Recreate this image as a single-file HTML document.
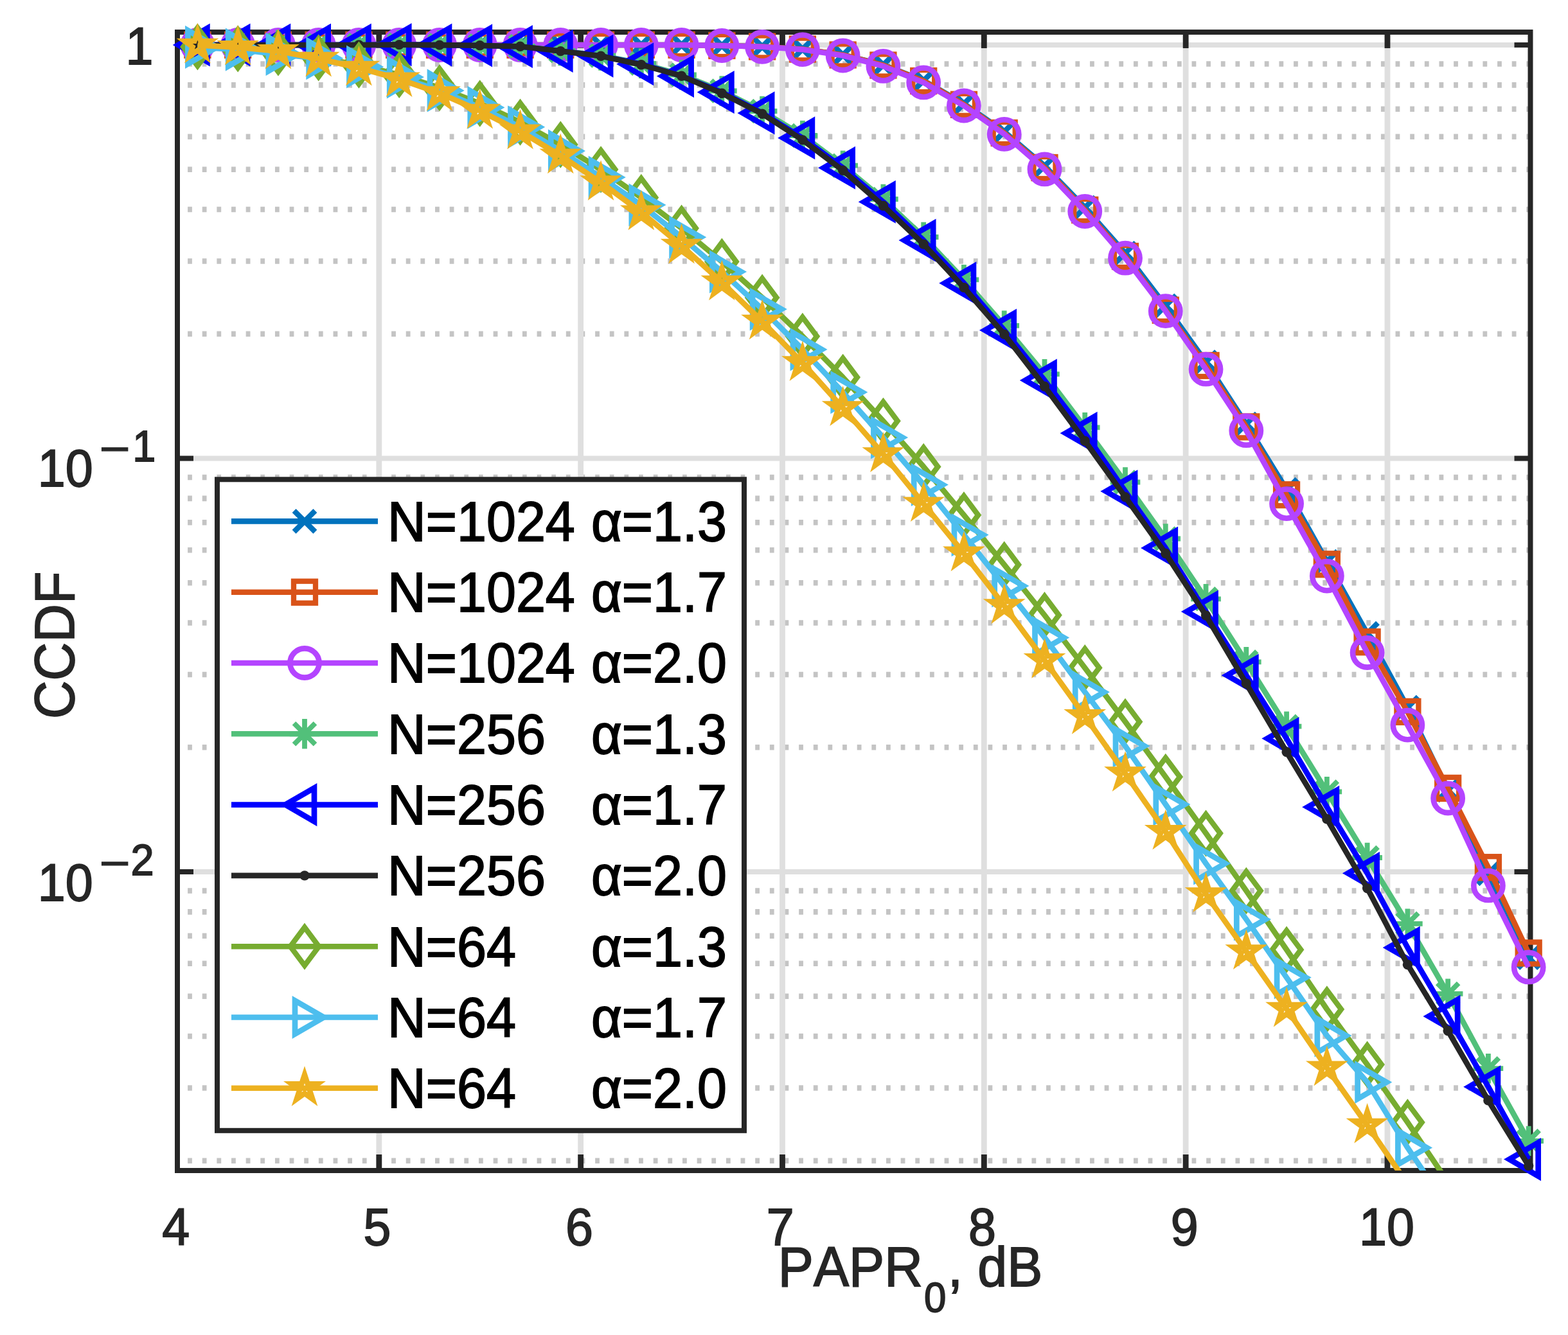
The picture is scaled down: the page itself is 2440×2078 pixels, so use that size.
<!DOCTYPE html><html><head><meta charset="utf-8"><title>CCDF of PAPR</title><style>html,body{margin:0;padding:0;background:#fff;overflow:hidden;}svg{display:block;}text{font-family:"Liberation Sans",Arial,Helvetica,sans-serif;font-kerning:none;}</style></head><body>
<svg xmlns="http://www.w3.org/2000/svg" width="2440" height="2078" viewBox="0 0 2440 2078">
<rect width="2440" height="2078" fill="#fff"/>
<defs><clipPath id="ax"><rect x="276" y="50" width="2105.5" height="1772"/></clipPath></defs>
<g stroke="#C4C4C4" stroke-width="8.6" stroke-dasharray="6.8 15.844" fill="none"><path d="M292.1 1806.79H2381.5"/><path d="M292.1 1693.47H2381.5"/><path d="M292.1 1613.07H2381.5"/><path d="M292.1 1550.71H2381.5"/><path d="M292.1 1499.76H2381.5"/><path d="M292.1 1456.68H2381.5"/><path d="M292.1 1419.36H2381.5"/><path d="M292.1 1386.44H2381.5"/><path d="M292.1 1163.29H2381.5"/><path d="M292.1 1049.97H2381.5"/><path d="M292.1 969.57H2381.5"/><path d="M292.1 907.21H2381.5"/><path d="M292.1 856.26H2381.5"/><path d="M292.1 813.18H2381.5"/><path d="M292.1 775.86H2381.5"/><path d="M292.1 742.94H2381.5"/><path d="M292.1 519.79H2381.5"/><path d="M292.1 406.47H2381.5"/><path d="M292.1 326.07H2381.5"/><path d="M292.1 263.71H2381.5"/><path d="M292.1 212.76H2381.5"/><path d="M292.1 169.68H2381.5"/><path d="M292.1 132.36H2381.5"/><path d="M292.1 99.44H2381.5"/></g>
<g stroke="#DFDFDF" stroke-width="8" fill="none"><path d="M589.83 50V1822" stroke-width="8.8"/><path d="M903.66 50V1822" stroke-width="8.8"/><path d="M1217.49 50V1822" stroke-width="8.8"/><path d="M1531.32 50V1822" stroke-width="8.8"/><path d="M1845.15 50V1822" stroke-width="8.8"/><path d="M2158.98 50V1822" stroke-width="8.8"/><path d="M276 70H2381.5"/><path d="M276 713.5H2381.5"/><path d="M276 1357H2381.5"/></g>
<g stroke="#262626" stroke-width="8" fill="none"><path d="M589.83 1822V1797M589.83 50V75" stroke-width="8.8"/><path d="M903.66 1822V1797M903.66 50V75" stroke-width="8.8"/><path d="M1217.49 1822V1797M1217.49 50V75" stroke-width="8.8"/><path d="M1531.32 1822V1797M1531.32 50V75" stroke-width="8.8"/><path d="M1845.15 1822V1797M1845.15 50V75" stroke-width="8.8"/><path d="M2158.98 1822V1797M2158.98 50V75" stroke-width="8.8"/><path d="M276 70H301M2381.5 70H2356.5"/><path d="M276 713.5H301M2381.5 713.5H2356.5"/><path d="M276 1357H301M2381.5 1357H2356.5"/><rect x="276" y="50" width="2105.5" height="1772"/></g>
<text transform="matrix(0.9420 0 0 1 252.13 1938.10)" font-size="82.00" fill="#262626" stroke="#262626" stroke-width="1.80">4</text><text transform="matrix(0.9420 0 0 1 565.61 1938.10)" font-size="82.00" fill="#262626" stroke="#262626" stroke-width="1.80">5</text><text transform="matrix(0.9420 0 0 1 879.92 1938.10)" font-size="82.00" fill="#262626" stroke="#262626" stroke-width="1.80">6</text><text transform="matrix(0.9420 0 0 1 1192.64 1938.10)" font-size="82.00" fill="#262626" stroke="#262626" stroke-width="1.80">7</text><text transform="matrix(0.9420 0 0 1 1506.94 1938.10)" font-size="82.00" fill="#262626" stroke="#262626" stroke-width="1.80">8</text><text transform="matrix(0.9420 0 0 1 1821.69 1938.10)" font-size="82.00" fill="#262626" stroke="#262626" stroke-width="1.80">9</text><text transform="matrix(0.9420 0 0 1 2115.02 1938.10)" font-size="82.00" fill="#262626" stroke="#262626" stroke-width="1.80">10</text>
<text transform="matrix(0.9420 0 0 1 195.52 99.90)" font-size="82.00" fill="#262626" stroke="#262626" stroke-width="1.80">1</text><text transform="matrix(0.9420 0 0 1 58.72 756.90)" font-size="82.00" fill="#262626" stroke="#262626" stroke-width="1.80">10</text><text transform="matrix(1.1949 0 0 1 154.44 722.00)" font-size="68.90" fill="#262626" stroke="#262626" stroke-width="1.20">−</text><text transform="matrix(0.9420 0 0 1 206.36 717.50)" font-size="68.90" fill="#262626" stroke="#262626" stroke-width="1.80">1</text><text transform="matrix(0.9420 0 0 1 58.72 1401.70)" font-size="82.00" fill="#262626" stroke="#262626" stroke-width="1.80">10</text><text transform="matrix(1.1949 0 0 1 154.44 1366.80)" font-size="68.90" fill="#262626" stroke="#262626" stroke-width="1.20">−</text><text transform="matrix(0.9420 0 0 1 203.54 1362.30)" font-size="68.90" fill="#262626" stroke="#262626" stroke-width="1.80">2</text>
<text transform="matrix(0.9500 0 0 1 1210.82 2002.20)" font-size="87.00" fill="#262626" stroke="#262626" stroke-width="1.80">PAPR</text>
<text transform="matrix(0.9500 0 0 1 1437.89 2042.10)" font-size="65.00" fill="#262626" stroke="#262626" stroke-width="1.80">0</text>
<text transform="matrix(0.9500 0 0 1 1475.07 2002.20)" font-size="87.00" fill="#262626" stroke="#262626" stroke-width="1.80">,</text>
<text transform="matrix(0.9500 0 0 1 1521.33 2002.20)" font-size="87.00" fill="#262626" stroke="#262626" stroke-width="1.80">dB</text>
<text transform="translate(115.00 1119.10) rotate(-90) scale(0.9500 1)" font-size="87.00" fill="#262626" stroke="#262626" stroke-width="1.80">CCDF</text>
<polyline clip-path="url(#ax)" points="307.4,70 370.17,70 432.93,70 495.7,70 558.46,70 621.23,70 684,70 746.76,70 809.53,70 872.29,70 935.06,70 997.83,70 1060.59,70 1123.36,71 1186.12,72.5 1248.89,76.5 1311.66,85.5 1374.42,101 1437.19,125.5 1499.95,161.5 1562.72,205 1625.49,258.5 1688.25,323 1751.02,394 1813.78,476 1876.55,563.5 1939.32,660 2002.08,762 2064.85,874 2127.61,986 2190.38,1101 2253.15,1230 2315.91,1359.8 2378.68,1490.7" stroke="#0072BD" stroke-width="8.6" fill="none" stroke-linejoin="round"/>
<path d="M291 53.6L323.8 86.4M291 86.4L323.8 53.6" stroke="#0072BD" stroke-width="8.3" fill="none"/><path d="M353.77 53.6L386.57 86.4M353.77 86.4L386.57 53.6" stroke="#0072BD" stroke-width="8.3" fill="none"/><path d="M416.53 53.6L449.33 86.4M416.53 86.4L449.33 53.6" stroke="#0072BD" stroke-width="8.3" fill="none"/><path d="M479.3 53.6L512.1 86.4M479.3 86.4L512.1 53.6" stroke="#0072BD" stroke-width="8.3" fill="none"/><path d="M542.06 53.6L574.86 86.4M542.06 86.4L574.86 53.6" stroke="#0072BD" stroke-width="8.3" fill="none"/><path d="M604.83 53.6L637.63 86.4M604.83 86.4L637.63 53.6" stroke="#0072BD" stroke-width="8.3" fill="none"/><path d="M667.6 53.6L700.4 86.4M667.6 86.4L700.4 53.6" stroke="#0072BD" stroke-width="8.3" fill="none"/><path d="M730.36 53.6L763.16 86.4M730.36 86.4L763.16 53.6" stroke="#0072BD" stroke-width="8.3" fill="none"/><path d="M793.13 53.6L825.93 86.4M793.13 86.4L825.93 53.6" stroke="#0072BD" stroke-width="8.3" fill="none"/><path d="M855.89 53.6L888.69 86.4M855.89 86.4L888.69 53.6" stroke="#0072BD" stroke-width="8.3" fill="none"/><path d="M918.66 53.6L951.46 86.4M918.66 86.4L951.46 53.6" stroke="#0072BD" stroke-width="8.3" fill="none"/><path d="M981.43 53.6L1014.23 86.4M981.43 86.4L1014.23 53.6" stroke="#0072BD" stroke-width="8.3" fill="none"/><path d="M1044.19 53.6L1076.99 86.4M1044.19 86.4L1076.99 53.6" stroke="#0072BD" stroke-width="8.3" fill="none"/><path d="M1106.96 54.6L1139.76 87.4M1106.96 87.4L1139.76 54.6" stroke="#0072BD" stroke-width="8.3" fill="none"/><path d="M1169.72 56.1L1202.52 88.9M1169.72 88.9L1202.52 56.1" stroke="#0072BD" stroke-width="8.3" fill="none"/><path d="M1232.49 60.1L1265.29 92.9M1232.49 92.9L1265.29 60.1" stroke="#0072BD" stroke-width="8.3" fill="none"/><path d="M1295.26 69.1L1328.06 101.9M1295.26 101.9L1328.06 69.1" stroke="#0072BD" stroke-width="8.3" fill="none"/><path d="M1358.02 84.6L1390.82 117.4M1358.02 117.4L1390.82 84.6" stroke="#0072BD" stroke-width="8.3" fill="none"/><path d="M1420.79 109.1L1453.59 141.9M1420.79 141.9L1453.59 109.1" stroke="#0072BD" stroke-width="8.3" fill="none"/><path d="M1483.55 145.1L1516.35 177.9M1483.55 177.9L1516.35 145.1" stroke="#0072BD" stroke-width="8.3" fill="none"/><path d="M1546.32 188.6L1579.12 221.4M1546.32 221.4L1579.12 188.6" stroke="#0072BD" stroke-width="8.3" fill="none"/><path d="M1609.09 242.1L1641.89 274.9M1609.09 274.9L1641.89 242.1" stroke="#0072BD" stroke-width="8.3" fill="none"/><path d="M1671.85 306.6L1704.65 339.4M1671.85 339.4L1704.65 306.6" stroke="#0072BD" stroke-width="8.3" fill="none"/><path d="M1734.62 377.6L1767.42 410.4M1734.62 410.4L1767.42 377.6" stroke="#0072BD" stroke-width="8.3" fill="none"/><path d="M1797.38 459.6L1830.18 492.4M1797.38 492.4L1830.18 459.6" stroke="#0072BD" stroke-width="8.3" fill="none"/><path d="M1860.15 547.1L1892.95 579.9M1860.15 579.9L1892.95 547.1" stroke="#0072BD" stroke-width="8.3" fill="none"/><path d="M1922.92 643.6L1955.72 676.4M1922.92 676.4L1955.72 643.6" stroke="#0072BD" stroke-width="8.3" fill="none"/><path d="M1985.68 745.6L2018.48 778.4M1985.68 778.4L2018.48 745.6" stroke="#0072BD" stroke-width="8.3" fill="none"/><path d="M2048.45 857.6L2081.25 890.4M2048.45 890.4L2081.25 857.6" stroke="#0072BD" stroke-width="8.3" fill="none"/><path d="M2111.21 969.6L2144.01 1002.4M2111.21 1002.4L2144.01 969.6" stroke="#0072BD" stroke-width="8.3" fill="none"/><path d="M2173.98 1084.6L2206.78 1117.4M2173.98 1117.4L2206.78 1084.6" stroke="#0072BD" stroke-width="8.3" fill="none"/><path d="M2236.75 1213.6L2269.55 1246.4M2236.75 1246.4L2269.55 1213.6" stroke="#0072BD" stroke-width="8.3" fill="none"/><path d="M2299.51 1343.4L2332.31 1376.2M2299.51 1376.2L2332.31 1343.4" stroke="#0072BD" stroke-width="8.3" fill="none"/><path d="M2362.28 1474.3L2395.08 1507.1M2362.28 1507.1L2395.08 1474.3" stroke="#0072BD" stroke-width="8.3" fill="none"/>
<polyline clip-path="url(#ax)" points="307.4,70 370.17,70 432.93,70 495.7,70 558.46,70 621.23,70 684,70 746.76,70 809.53,70 872.29,70 935.06,70 997.83,70 1060.59,70 1123.36,71 1186.12,72.5 1248.89,76.5 1311.66,85.5 1374.42,101.5 1437.19,126 1499.95,162.8 1562.72,207 1625.49,261 1688.25,326.9 1751.02,399 1813.78,482.8 1876.55,569 1939.32,664.4 2002.08,770.2 2064.85,878.3 2127.61,999.3 2190.38,1107.9 2253.15,1226.9 2315.91,1350.2 2378.68,1483.5" stroke="#D95319" stroke-width="8.6" fill="none" stroke-linejoin="round"/>
<rect x="290.4" y="53" width="34" height="34" stroke="#D95319" stroke-width="8.3" fill="none"/><rect x="353.17" y="53" width="34" height="34" stroke="#D95319" stroke-width="8.3" fill="none"/><rect x="415.93" y="53" width="34" height="34" stroke="#D95319" stroke-width="8.3" fill="none"/><rect x="478.7" y="53" width="34" height="34" stroke="#D95319" stroke-width="8.3" fill="none"/><rect x="541.46" y="53" width="34" height="34" stroke="#D95319" stroke-width="8.3" fill="none"/><rect x="604.23" y="53" width="34" height="34" stroke="#D95319" stroke-width="8.3" fill="none"/><rect x="667" y="53" width="34" height="34" stroke="#D95319" stroke-width="8.3" fill="none"/><rect x="729.76" y="53" width="34" height="34" stroke="#D95319" stroke-width="8.3" fill="none"/><rect x="792.53" y="53" width="34" height="34" stroke="#D95319" stroke-width="8.3" fill="none"/><rect x="855.29" y="53" width="34" height="34" stroke="#D95319" stroke-width="8.3" fill="none"/><rect x="918.06" y="53" width="34" height="34" stroke="#D95319" stroke-width="8.3" fill="none"/><rect x="980.83" y="53" width="34" height="34" stroke="#D95319" stroke-width="8.3" fill="none"/><rect x="1043.59" y="53" width="34" height="34" stroke="#D95319" stroke-width="8.3" fill="none"/><rect x="1106.36" y="54" width="34" height="34" stroke="#D95319" stroke-width="8.3" fill="none"/><rect x="1169.12" y="55.5" width="34" height="34" stroke="#D95319" stroke-width="8.3" fill="none"/><rect x="1231.89" y="59.5" width="34" height="34" stroke="#D95319" stroke-width="8.3" fill="none"/><rect x="1294.66" y="68.5" width="34" height="34" stroke="#D95319" stroke-width="8.3" fill="none"/><rect x="1357.42" y="84.5" width="34" height="34" stroke="#D95319" stroke-width="8.3" fill="none"/><rect x="1420.19" y="109" width="34" height="34" stroke="#D95319" stroke-width="8.3" fill="none"/><rect x="1482.95" y="145.8" width="34" height="34" stroke="#D95319" stroke-width="8.3" fill="none"/><rect x="1545.72" y="190" width="34" height="34" stroke="#D95319" stroke-width="8.3" fill="none"/><rect x="1608.49" y="244" width="34" height="34" stroke="#D95319" stroke-width="8.3" fill="none"/><rect x="1671.25" y="309.9" width="34" height="34" stroke="#D95319" stroke-width="8.3" fill="none"/><rect x="1734.02" y="382" width="34" height="34" stroke="#D95319" stroke-width="8.3" fill="none"/><rect x="1796.78" y="465.8" width="34" height="34" stroke="#D95319" stroke-width="8.3" fill="none"/><rect x="1859.55" y="552" width="34" height="34" stroke="#D95319" stroke-width="8.3" fill="none"/><rect x="1922.32" y="647.4" width="34" height="34" stroke="#D95319" stroke-width="8.3" fill="none"/><rect x="1985.08" y="753.2" width="34" height="34" stroke="#D95319" stroke-width="8.3" fill="none"/><rect x="2047.85" y="861.3" width="34" height="34" stroke="#D95319" stroke-width="8.3" fill="none"/><rect x="2110.61" y="982.3" width="34" height="34" stroke="#D95319" stroke-width="8.3" fill="none"/><rect x="2173.38" y="1090.9" width="34" height="34" stroke="#D95319" stroke-width="8.3" fill="none"/><rect x="2236.15" y="1209.9" width="34" height="34" stroke="#D95319" stroke-width="8.3" fill="none"/><rect x="2298.91" y="1333.2" width="34" height="34" stroke="#D95319" stroke-width="8.3" fill="none"/><rect x="2361.68" y="1466.5" width="34" height="34" stroke="#D95319" stroke-width="8.3" fill="none"/>
<polyline clip-path="url(#ax)" points="307.4,70 370.17,70 432.93,70 495.7,70 558.46,70 621.23,70 684,70 746.76,70 809.53,70 872.29,70 935.06,70 997.83,70 1060.59,70 1123.36,71 1186.12,72.8 1248.89,77.1 1311.66,86.5 1374.42,102.9 1437.19,128.4 1499.95,164.5 1562.72,208.8 1625.49,263.4 1688.25,329 1751.02,401.7 1813.78,484.2 1876.55,574.7 1939.32,670.2 2002.08,784.1 2064.85,896.6 2127.61,1016 2190.38,1128.6 2253.15,1242.5 2315.91,1378.4 2378.68,1505.4" stroke="#B444FF" stroke-width="8.6" fill="none" stroke-linejoin="round"/>
<circle cx="307.4" cy="70" r="22.6" stroke="#B444FF" stroke-width="8.6" fill="none"/><circle cx="370.17" cy="70" r="22.6" stroke="#B444FF" stroke-width="8.6" fill="none"/><circle cx="432.93" cy="70" r="22.6" stroke="#B444FF" stroke-width="8.6" fill="none"/><circle cx="495.7" cy="70" r="22.6" stroke="#B444FF" stroke-width="8.6" fill="none"/><circle cx="558.46" cy="70" r="22.6" stroke="#B444FF" stroke-width="8.6" fill="none"/><circle cx="621.23" cy="70" r="22.6" stroke="#B444FF" stroke-width="8.6" fill="none"/><circle cx="684" cy="70" r="22.6" stroke="#B444FF" stroke-width="8.6" fill="none"/><circle cx="746.76" cy="70" r="22.6" stroke="#B444FF" stroke-width="8.6" fill="none"/><circle cx="809.53" cy="70" r="22.6" stroke="#B444FF" stroke-width="8.6" fill="none"/><circle cx="872.29" cy="70" r="22.6" stroke="#B444FF" stroke-width="8.6" fill="none"/><circle cx="935.06" cy="70" r="22.6" stroke="#B444FF" stroke-width="8.6" fill="none"/><circle cx="997.83" cy="70" r="22.6" stroke="#B444FF" stroke-width="8.6" fill="none"/><circle cx="1060.59" cy="70" r="22.6" stroke="#B444FF" stroke-width="8.6" fill="none"/><circle cx="1123.36" cy="71" r="22.6" stroke="#B444FF" stroke-width="8.6" fill="none"/><circle cx="1186.12" cy="72.8" r="22.6" stroke="#B444FF" stroke-width="8.6" fill="none"/><circle cx="1248.89" cy="77.1" r="22.6" stroke="#B444FF" stroke-width="8.6" fill="none"/><circle cx="1311.66" cy="86.5" r="22.6" stroke="#B444FF" stroke-width="8.6" fill="none"/><circle cx="1374.42" cy="102.9" r="22.6" stroke="#B444FF" stroke-width="8.6" fill="none"/><circle cx="1437.19" cy="128.4" r="22.6" stroke="#B444FF" stroke-width="8.6" fill="none"/><circle cx="1499.95" cy="164.5" r="22.6" stroke="#B444FF" stroke-width="8.6" fill="none"/><circle cx="1562.72" cy="208.8" r="22.6" stroke="#B444FF" stroke-width="8.6" fill="none"/><circle cx="1625.49" cy="263.4" r="22.6" stroke="#B444FF" stroke-width="8.6" fill="none"/><circle cx="1688.25" cy="329" r="22.6" stroke="#B444FF" stroke-width="8.6" fill="none"/><circle cx="1751.02" cy="401.7" r="22.6" stroke="#B444FF" stroke-width="8.6" fill="none"/><circle cx="1813.78" cy="484.2" r="22.6" stroke="#B444FF" stroke-width="8.6" fill="none"/><circle cx="1876.55" cy="574.7" r="22.6" stroke="#B444FF" stroke-width="8.6" fill="none"/><circle cx="1939.32" cy="670.2" r="22.6" stroke="#B444FF" stroke-width="8.6" fill="none"/><circle cx="2002.08" cy="784.1" r="22.6" stroke="#B444FF" stroke-width="8.6" fill="none"/><circle cx="2064.85" cy="896.6" r="22.6" stroke="#B444FF" stroke-width="8.6" fill="none"/><circle cx="2127.61" cy="1016" r="22.6" stroke="#B444FF" stroke-width="8.6" fill="none"/><circle cx="2190.38" cy="1128.6" r="22.6" stroke="#B444FF" stroke-width="8.6" fill="none"/><circle cx="2253.15" cy="1242.5" r="22.6" stroke="#B444FF" stroke-width="8.6" fill="none"/><circle cx="2315.91" cy="1378.4" r="22.6" stroke="#B444FF" stroke-width="8.6" fill="none"/><circle cx="2378.68" cy="1505.4" r="22.6" stroke="#B444FF" stroke-width="8.6" fill="none"/>
<polyline clip-path="url(#ax)" points="307.4,70 370.17,70 432.93,70 495.7,70 558.46,70 621.23,69.8 684,70.2 746.76,71 809.53,72 872.29,79 935.06,86.5 997.83,98.8 1060.59,116.5 1123.36,141.5 1186.12,173 1248.89,211 1311.66,257.7 1374.42,310 1437.19,369 1499.95,435.3 1562.72,506.8 1625.49,582.4 1688.25,665.4 1751.02,750.5 1813.78,838.5 1876.55,932.3 1939.32,1030.3 2002.08,1130.7 2064.85,1232.4 2127.61,1335 2190.38,1437.8 2253.15,1546.9 2315.91,1663.2 2378.68,1776" stroke="#52C07A" stroke-width="8.6" fill="none" stroke-linejoin="round"/>
<path d="M307.4 46.7V93.3M284.1 70H330.7M290.9 53.5L323.9 86.5M290.9 86.5L323.9 53.5" stroke="#52C07A" stroke-width="7.8" fill="none"/><path d="M370.17 46.7V93.3M346.87 70H393.47M353.67 53.5L386.67 86.5M353.67 86.5L386.67 53.5" stroke="#52C07A" stroke-width="7.8" fill="none"/><path d="M432.93 46.7V93.3M409.63 70H456.23M416.43 53.5L449.43 86.5M416.43 86.5L449.43 53.5" stroke="#52C07A" stroke-width="7.8" fill="none"/><path d="M495.7 46.7V93.3M472.4 70H519M479.2 53.5L512.2 86.5M479.2 86.5L512.2 53.5" stroke="#52C07A" stroke-width="7.8" fill="none"/><path d="M558.46 46.7V93.3M535.16 70H581.76M541.96 53.5L574.96 86.5M541.96 86.5L574.96 53.5" stroke="#52C07A" stroke-width="7.8" fill="none"/><path d="M621.23 46.5V93.1M597.93 69.8H644.53M604.73 53.3L637.73 86.3M604.73 86.3L637.73 53.3" stroke="#52C07A" stroke-width="7.8" fill="none"/><path d="M684 46.9V93.5M660.7 70.2H707.3M667.5 53.7L700.5 86.7M667.5 86.7L700.5 53.7" stroke="#52C07A" stroke-width="7.8" fill="none"/><path d="M746.76 47.7V94.3M723.46 71H770.06M730.26 54.5L763.26 87.5M730.26 87.5L763.26 54.5" stroke="#52C07A" stroke-width="7.8" fill="none"/><path d="M809.53 48.7V95.3M786.23 72H832.83M793.03 55.5L826.03 88.5M793.03 88.5L826.03 55.5" stroke="#52C07A" stroke-width="7.8" fill="none"/><path d="M872.29 55.7V102.3M848.99 79H895.59M855.79 62.5L888.79 95.5M855.79 95.5L888.79 62.5" stroke="#52C07A" stroke-width="7.8" fill="none"/><path d="M935.06 63.2V109.8M911.76 86.5H958.36M918.56 70L951.56 103M918.56 103L951.56 70" stroke="#52C07A" stroke-width="7.8" fill="none"/><path d="M997.83 75.5V122.1M974.53 98.8H1021.13M981.33 82.3L1014.33 115.3M981.33 115.3L1014.33 82.3" stroke="#52C07A" stroke-width="7.8" fill="none"/><path d="M1060.59 93.2V139.8M1037.29 116.5H1083.89M1044.09 100L1077.09 133M1044.09 133L1077.09 100" stroke="#52C07A" stroke-width="7.8" fill="none"/><path d="M1123.36 118.2V164.8M1100.06 141.5H1146.66M1106.86 125L1139.86 158M1106.86 158L1139.86 125" stroke="#52C07A" stroke-width="7.8" fill="none"/><path d="M1186.12 149.7V196.3M1162.82 173H1209.42M1169.62 156.5L1202.62 189.5M1169.62 189.5L1202.62 156.5" stroke="#52C07A" stroke-width="7.8" fill="none"/><path d="M1248.89 187.7V234.3M1225.59 211H1272.19M1232.39 194.5L1265.39 227.5M1232.39 227.5L1265.39 194.5" stroke="#52C07A" stroke-width="7.8" fill="none"/><path d="M1311.66 234.4V281M1288.36 257.7H1334.96M1295.16 241.2L1328.16 274.2M1295.16 274.2L1328.16 241.2" stroke="#52C07A" stroke-width="7.8" fill="none"/><path d="M1374.42 286.7V333.3M1351.12 310H1397.72M1357.92 293.5L1390.92 326.5M1357.92 326.5L1390.92 293.5" stroke="#52C07A" stroke-width="7.8" fill="none"/><path d="M1437.19 345.7V392.3M1413.89 369H1460.49M1420.69 352.5L1453.69 385.5M1420.69 385.5L1453.69 352.5" stroke="#52C07A" stroke-width="7.8" fill="none"/><path d="M1499.95 412V458.6M1476.65 435.3H1523.25M1483.45 418.8L1516.45 451.8M1483.45 451.8L1516.45 418.8" stroke="#52C07A" stroke-width="7.8" fill="none"/><path d="M1562.72 483.5V530.1M1539.42 506.8H1586.02M1546.22 490.3L1579.22 523.3M1546.22 523.3L1579.22 490.3" stroke="#52C07A" stroke-width="7.8" fill="none"/><path d="M1625.49 559.1V605.7M1602.19 582.4H1648.79M1608.99 565.9L1641.99 598.9M1608.99 598.9L1641.99 565.9" stroke="#52C07A" stroke-width="7.8" fill="none"/><path d="M1688.25 642.1V688.7M1664.95 665.4H1711.55M1671.75 648.9L1704.75 681.9M1671.75 681.9L1704.75 648.9" stroke="#52C07A" stroke-width="7.8" fill="none"/><path d="M1751.02 727.2V773.8M1727.72 750.5H1774.32M1734.52 734L1767.52 767M1734.52 767L1767.52 734" stroke="#52C07A" stroke-width="7.8" fill="none"/><path d="M1813.78 815.2V861.8M1790.48 838.5H1837.08M1797.28 822L1830.28 855M1797.28 855L1830.28 822" stroke="#52C07A" stroke-width="7.8" fill="none"/><path d="M1876.55 909V955.6M1853.25 932.3H1899.85M1860.05 915.8L1893.05 948.8M1860.05 948.8L1893.05 915.8" stroke="#52C07A" stroke-width="7.8" fill="none"/><path d="M1939.32 1007V1053.6M1916.02 1030.3H1962.62M1922.82 1013.8L1955.82 1046.8M1922.82 1046.8L1955.82 1013.8" stroke="#52C07A" stroke-width="7.8" fill="none"/><path d="M2002.08 1107.4V1154M1978.78 1130.7H2025.38M1985.58 1114.2L2018.58 1147.2M1985.58 1147.2L2018.58 1114.2" stroke="#52C07A" stroke-width="7.8" fill="none"/><path d="M2064.85 1209.1V1255.7M2041.55 1232.4H2088.15M2048.35 1215.9L2081.35 1248.9M2048.35 1248.9L2081.35 1215.9" stroke="#52C07A" stroke-width="7.8" fill="none"/><path d="M2127.61 1311.7V1358.3M2104.31 1335H2150.91M2111.11 1318.5L2144.11 1351.5M2111.11 1351.5L2144.11 1318.5" stroke="#52C07A" stroke-width="7.8" fill="none"/><path d="M2190.38 1414.5V1461.1M2167.08 1437.8H2213.68M2173.88 1421.3L2206.88 1454.3M2173.88 1454.3L2206.88 1421.3" stroke="#52C07A" stroke-width="7.8" fill="none"/><path d="M2253.15 1523.6V1570.2M2229.85 1546.9H2276.45M2236.65 1530.4L2269.65 1563.4M2236.65 1563.4L2269.65 1530.4" stroke="#52C07A" stroke-width="7.8" fill="none"/><path d="M2315.91 1639.9V1686.5M2292.61 1663.2H2339.21M2299.41 1646.7L2332.41 1679.7M2299.41 1679.7L2332.41 1646.7" stroke="#52C07A" stroke-width="7.8" fill="none"/><path d="M2378.68 1752.7V1799.3M2355.38 1776H2401.98M2362.18 1759.5L2395.18 1792.5M2362.18 1792.5L2395.18 1759.5" stroke="#52C07A" stroke-width="7.8" fill="none"/>
<polyline clip-path="url(#ax)" points="307.4,70 370.17,70 432.93,70 495.7,70 558.46,70 621.23,69.6 684,70.1 746.76,70.9 809.53,72.5 872.29,79.4 935.06,87.1 997.83,99.7 1060.59,118.4 1123.36,143.5 1186.12,175.9 1248.89,214.8 1311.66,261.2 1374.42,314.2 1437.19,374.1 1499.95,440.7 1562.72,514 1625.49,592 1688.25,674.2 1751.02,764.8 1813.78,853 1876.55,952 1939.32,1051.2 2002.08,1149.6 2064.85,1256.2 2127.61,1359.2 2190.38,1475 2253.15,1582 2315.91,1691.7 2378.68,1804.6" stroke="#0000FF" stroke-width="8.6" fill="none" stroke-linejoin="round"/>
<path d="M277.4 70L322.4 44L322.4 96Z" stroke="#0000FF" stroke-width="8.7" fill="none" stroke-miterlimit="10"/><path d="M340.17 70L385.17 44L385.17 96Z" stroke="#0000FF" stroke-width="8.7" fill="none" stroke-miterlimit="10"/><path d="M402.93 70L447.93 44L447.93 96Z" stroke="#0000FF" stroke-width="8.7" fill="none" stroke-miterlimit="10"/><path d="M465.7 70L510.7 44L510.7 96Z" stroke="#0000FF" stroke-width="8.7" fill="none" stroke-miterlimit="10"/><path d="M528.46 70L573.46 44L573.46 96Z" stroke="#0000FF" stroke-width="8.7" fill="none" stroke-miterlimit="10"/><path d="M591.23 69.6L636.23 43.6L636.23 95.6Z" stroke="#0000FF" stroke-width="8.7" fill="none" stroke-miterlimit="10"/><path d="M654 70.1L699 44.1L699 96.1Z" stroke="#0000FF" stroke-width="8.7" fill="none" stroke-miterlimit="10"/><path d="M716.76 70.9L761.76 44.9L761.76 96.9Z" stroke="#0000FF" stroke-width="8.7" fill="none" stroke-miterlimit="10"/><path d="M779.53 72.5L824.53 46.5L824.53 98.5Z" stroke="#0000FF" stroke-width="8.7" fill="none" stroke-miterlimit="10"/><path d="M842.29 79.4L887.29 53.4L887.29 105.4Z" stroke="#0000FF" stroke-width="8.7" fill="none" stroke-miterlimit="10"/><path d="M905.06 87.1L950.06 61.1L950.06 113.1Z" stroke="#0000FF" stroke-width="8.7" fill="none" stroke-miterlimit="10"/><path d="M967.83 99.7L1012.83 73.7L1012.83 125.7Z" stroke="#0000FF" stroke-width="8.7" fill="none" stroke-miterlimit="10"/><path d="M1030.59 118.4L1075.59 92.4L1075.59 144.4Z" stroke="#0000FF" stroke-width="8.7" fill="none" stroke-miterlimit="10"/><path d="M1093.36 143.5L1138.36 117.5L1138.36 169.5Z" stroke="#0000FF" stroke-width="8.7" fill="none" stroke-miterlimit="10"/><path d="M1156.12 175.9L1201.12 149.9L1201.12 201.9Z" stroke="#0000FF" stroke-width="8.7" fill="none" stroke-miterlimit="10"/><path d="M1218.89 214.8L1263.89 188.8L1263.89 240.8Z" stroke="#0000FF" stroke-width="8.7" fill="none" stroke-miterlimit="10"/><path d="M1281.66 261.2L1326.66 235.2L1326.66 287.2Z" stroke="#0000FF" stroke-width="8.7" fill="none" stroke-miterlimit="10"/><path d="M1344.42 314.2L1389.42 288.2L1389.42 340.2Z" stroke="#0000FF" stroke-width="8.7" fill="none" stroke-miterlimit="10"/><path d="M1407.19 374.1L1452.19 348.1L1452.19 400.1Z" stroke="#0000FF" stroke-width="8.7" fill="none" stroke-miterlimit="10"/><path d="M1469.95 440.7L1514.95 414.7L1514.95 466.7Z" stroke="#0000FF" stroke-width="8.7" fill="none" stroke-miterlimit="10"/><path d="M1532.72 514L1577.72 488L1577.72 540Z" stroke="#0000FF" stroke-width="8.7" fill="none" stroke-miterlimit="10"/><path d="M1595.49 592L1640.49 566L1640.49 618Z" stroke="#0000FF" stroke-width="8.7" fill="none" stroke-miterlimit="10"/><path d="M1658.25 674.2L1703.25 648.2L1703.25 700.2Z" stroke="#0000FF" stroke-width="8.7" fill="none" stroke-miterlimit="10"/><path d="M1721.02 764.8L1766.02 738.8L1766.02 790.8Z" stroke="#0000FF" stroke-width="8.7" fill="none" stroke-miterlimit="10"/><path d="M1783.78 853L1828.78 827L1828.78 879Z" stroke="#0000FF" stroke-width="8.7" fill="none" stroke-miterlimit="10"/><path d="M1846.55 952L1891.55 926L1891.55 978Z" stroke="#0000FF" stroke-width="8.7" fill="none" stroke-miterlimit="10"/><path d="M1909.32 1051.2L1954.32 1025.2L1954.32 1077.2Z" stroke="#0000FF" stroke-width="8.7" fill="none" stroke-miterlimit="10"/><path d="M1972.08 1149.6L2017.08 1123.6L2017.08 1175.6Z" stroke="#0000FF" stroke-width="8.7" fill="none" stroke-miterlimit="10"/><path d="M2034.85 1256.2L2079.85 1230.2L2079.85 1282.2Z" stroke="#0000FF" stroke-width="8.7" fill="none" stroke-miterlimit="10"/><path d="M2097.61 1359.2L2142.61 1333.2L2142.61 1385.2Z" stroke="#0000FF" stroke-width="8.7" fill="none" stroke-miterlimit="10"/><path d="M2160.38 1475L2205.38 1449L2205.38 1501Z" stroke="#0000FF" stroke-width="8.7" fill="none" stroke-miterlimit="10"/><path d="M2223.15 1582L2268.15 1556L2268.15 1608Z" stroke="#0000FF" stroke-width="8.7" fill="none" stroke-miterlimit="10"/><path d="M2285.91 1691.7L2330.91 1665.7L2330.91 1717.7Z" stroke="#0000FF" stroke-width="8.7" fill="none" stroke-miterlimit="10"/><path d="M2348.68 1804.6L2393.68 1778.6L2393.68 1830.6Z" stroke="#0000FF" stroke-width="8.7" fill="none" stroke-miterlimit="10"/>
<polyline clip-path="url(#ax)" points="307.4,70 370.17,70 432.93,70 495.7,70 558.46,70 621.23,69.6 684,70.1 746.76,70.8 809.53,72.2 872.29,79.6 935.06,87.3 997.83,100.8 1060.59,118.2 1123.36,145.2 1186.12,177.2 1248.89,217.9 1311.66,265.2 1374.42,320.2 1437.19,380.1 1499.95,447.6 1562.72,520.4 1625.49,601.5 1688.25,686.4 1751.02,773.6 1813.78,861.5 1876.55,958 1939.32,1064 2002.08,1170.5 2064.85,1274.7 2127.61,1382.6 2190.38,1501.5 2253.15,1604.5 2315.91,1712.9 2378.68,1814.5" stroke="#262626" stroke-width="8.6" fill="none" stroke-linejoin="round"/>
<circle cx="307.4" cy="70" r="7.7" fill="#262626"/><circle cx="370.17" cy="70" r="7.7" fill="#262626"/><circle cx="432.93" cy="70" r="7.7" fill="#262626"/><circle cx="495.7" cy="70" r="7.7" fill="#262626"/><circle cx="558.46" cy="70" r="7.7" fill="#262626"/><circle cx="621.23" cy="69.6" r="7.7" fill="#262626"/><circle cx="684" cy="70.1" r="7.7" fill="#262626"/><circle cx="746.76" cy="70.8" r="7.7" fill="#262626"/><circle cx="809.53" cy="72.2" r="7.7" fill="#262626"/><circle cx="872.29" cy="79.6" r="7.7" fill="#262626"/><circle cx="935.06" cy="87.3" r="7.7" fill="#262626"/><circle cx="997.83" cy="100.8" r="7.7" fill="#262626"/><circle cx="1060.59" cy="118.2" r="7.7" fill="#262626"/><circle cx="1123.36" cy="145.2" r="7.7" fill="#262626"/><circle cx="1186.12" cy="177.2" r="7.7" fill="#262626"/><circle cx="1248.89" cy="217.9" r="7.7" fill="#262626"/><circle cx="1311.66" cy="265.2" r="7.7" fill="#262626"/><circle cx="1374.42" cy="320.2" r="7.7" fill="#262626"/><circle cx="1437.19" cy="380.1" r="7.7" fill="#262626"/><circle cx="1499.95" cy="447.6" r="7.7" fill="#262626"/><circle cx="1562.72" cy="520.4" r="7.7" fill="#262626"/><circle cx="1625.49" cy="601.5" r="7.7" fill="#262626"/><circle cx="1688.25" cy="686.4" r="7.7" fill="#262626"/><circle cx="1751.02" cy="773.6" r="7.7" fill="#262626"/><circle cx="1813.78" cy="861.5" r="7.7" fill="#262626"/><circle cx="1876.55" cy="958" r="7.7" fill="#262626"/><circle cx="1939.32" cy="1064" r="7.7" fill="#262626"/><circle cx="2002.08" cy="1170.5" r="7.7" fill="#262626"/><circle cx="2064.85" cy="1274.7" r="7.7" fill="#262626"/><circle cx="2127.61" cy="1382.6" r="7.7" fill="#262626"/><circle cx="2190.38" cy="1501.5" r="7.7" fill="#262626"/><circle cx="2253.15" cy="1604.5" r="7.7" fill="#262626"/><circle cx="2315.91" cy="1712.9" r="7.7" fill="#262626"/><circle cx="2378.68" cy="1814.5" r="7.7" fill="#262626"/>
<polyline clip-path="url(#ax)" points="307.4,72.9 370.17,75.8 432.93,81.9 495.7,89.8 558.46,101 621.23,116.4 684,136.6 746.76,161 809.53,190.2 872.29,225 935.06,263.8 997.83,307.4 1060.59,355.2 1123.36,407.2 1186.12,463.2 1248.89,523.4 1311.66,587.3 1374.42,655.3 1437.19,726.4 1499.95,801.7 1562.72,879 1625.49,957.6 1688.25,1039.6 1751.02,1123.4 1813.78,1209.3 1876.55,1297.1 1939.32,1386.5 2002.08,1478.2 2064.85,1571 2127.61,1657 2190.38,1747 2253.15,1840" stroke="#77AC30" stroke-width="8.6" fill="none" stroke-linejoin="round"/>
<path d="M307.4 43.2L329.6 72.9L307.4 102.6L285.2 72.9Z" stroke="#77AC30" stroke-width="8.3" fill="none" stroke-miterlimit="10"/><path d="M370.17 46.1L392.37 75.8L370.17 105.5L347.97 75.8Z" stroke="#77AC30" stroke-width="8.3" fill="none" stroke-miterlimit="10"/><path d="M432.93 52.2L455.13 81.9L432.93 111.6L410.73 81.9Z" stroke="#77AC30" stroke-width="8.3" fill="none" stroke-miterlimit="10"/><path d="M495.7 60.1L517.9 89.8L495.7 119.5L473.5 89.8Z" stroke="#77AC30" stroke-width="8.3" fill="none" stroke-miterlimit="10"/><path d="M558.46 71.3L580.66 101L558.46 130.7L536.26 101Z" stroke="#77AC30" stroke-width="8.3" fill="none" stroke-miterlimit="10"/><path d="M621.23 86.7L643.43 116.4L621.23 146.1L599.03 116.4Z" stroke="#77AC30" stroke-width="8.3" fill="none" stroke-miterlimit="10"/><path d="M684 106.9L706.2 136.6L684 166.3L661.8 136.6Z" stroke="#77AC30" stroke-width="8.3" fill="none" stroke-miterlimit="10"/><path d="M746.76 131.3L768.96 161L746.76 190.7L724.56 161Z" stroke="#77AC30" stroke-width="8.3" fill="none" stroke-miterlimit="10"/><path d="M809.53 160.5L831.73 190.2L809.53 219.9L787.33 190.2Z" stroke="#77AC30" stroke-width="8.3" fill="none" stroke-miterlimit="10"/><path d="M872.29 195.3L894.49 225L872.29 254.7L850.09 225Z" stroke="#77AC30" stroke-width="8.3" fill="none" stroke-miterlimit="10"/><path d="M935.06 234.1L957.26 263.8L935.06 293.5L912.86 263.8Z" stroke="#77AC30" stroke-width="8.3" fill="none" stroke-miterlimit="10"/><path d="M997.83 277.7L1020.03 307.4L997.83 337.1L975.63 307.4Z" stroke="#77AC30" stroke-width="8.3" fill="none" stroke-miterlimit="10"/><path d="M1060.59 325.5L1082.79 355.2L1060.59 384.9L1038.39 355.2Z" stroke="#77AC30" stroke-width="8.3" fill="none" stroke-miterlimit="10"/><path d="M1123.36 377.5L1145.56 407.2L1123.36 436.9L1101.16 407.2Z" stroke="#77AC30" stroke-width="8.3" fill="none" stroke-miterlimit="10"/><path d="M1186.12 433.5L1208.32 463.2L1186.12 492.9L1163.92 463.2Z" stroke="#77AC30" stroke-width="8.3" fill="none" stroke-miterlimit="10"/><path d="M1248.89 493.7L1271.09 523.4L1248.89 553.1L1226.69 523.4Z" stroke="#77AC30" stroke-width="8.3" fill="none" stroke-miterlimit="10"/><path d="M1311.66 557.6L1333.86 587.3L1311.66 617L1289.46 587.3Z" stroke="#77AC30" stroke-width="8.3" fill="none" stroke-miterlimit="10"/><path d="M1374.42 625.6L1396.62 655.3L1374.42 685L1352.22 655.3Z" stroke="#77AC30" stroke-width="8.3" fill="none" stroke-miterlimit="10"/><path d="M1437.19 696.7L1459.39 726.4L1437.19 756.1L1414.99 726.4Z" stroke="#77AC30" stroke-width="8.3" fill="none" stroke-miterlimit="10"/><path d="M1499.95 772L1522.15 801.7L1499.95 831.4L1477.75 801.7Z" stroke="#77AC30" stroke-width="8.3" fill="none" stroke-miterlimit="10"/><path d="M1562.72 849.3L1584.92 879L1562.72 908.7L1540.52 879Z" stroke="#77AC30" stroke-width="8.3" fill="none" stroke-miterlimit="10"/><path d="M1625.49 927.9L1647.69 957.6L1625.49 987.3L1603.29 957.6Z" stroke="#77AC30" stroke-width="8.3" fill="none" stroke-miterlimit="10"/><path d="M1688.25 1009.9L1710.45 1039.6L1688.25 1069.3L1666.05 1039.6Z" stroke="#77AC30" stroke-width="8.3" fill="none" stroke-miterlimit="10"/><path d="M1751.02 1093.7L1773.22 1123.4L1751.02 1153.1L1728.82 1123.4Z" stroke="#77AC30" stroke-width="8.3" fill="none" stroke-miterlimit="10"/><path d="M1813.78 1179.6L1835.98 1209.3L1813.78 1239L1791.58 1209.3Z" stroke="#77AC30" stroke-width="8.3" fill="none" stroke-miterlimit="10"/><path d="M1876.55 1267.4L1898.75 1297.1L1876.55 1326.8L1854.35 1297.1Z" stroke="#77AC30" stroke-width="8.3" fill="none" stroke-miterlimit="10"/><path d="M1939.32 1356.8L1961.52 1386.5L1939.32 1416.2L1917.12 1386.5Z" stroke="#77AC30" stroke-width="8.3" fill="none" stroke-miterlimit="10"/><path d="M2002.08 1448.5L2024.28 1478.2L2002.08 1507.9L1979.88 1478.2Z" stroke="#77AC30" stroke-width="8.3" fill="none" stroke-miterlimit="10"/><path d="M2064.85 1541.3L2087.05 1571L2064.85 1600.7L2042.65 1571Z" stroke="#77AC30" stroke-width="8.3" fill="none" stroke-miterlimit="10"/><path d="M2127.61 1627.3L2149.81 1657L2127.61 1686.7L2105.41 1657Z" stroke="#77AC30" stroke-width="8.3" fill="none" stroke-miterlimit="10"/><path d="M2190.38 1717.3L2212.58 1747L2190.38 1776.7L2168.18 1747Z" stroke="#77AC30" stroke-width="8.3" fill="none" stroke-miterlimit="10"/>
<polyline clip-path="url(#ax)" points="307.4,73.4 370.17,77.1 432.93,84.4 495.7,90.8 558.46,104 621.23,120 684,140.9 746.76,167.3 809.53,197.7 872.29,234.9 935.06,276 997.83,319 1060.59,369.2 1123.36,422.9 1186.12,481.2 1248.89,543.9 1311.66,610.6 1374.42,681 1437.19,754.4 1499.95,832.6 1562.72,912 1625.49,992.4 1688.25,1077.3 1751.02,1161.3 1813.78,1252 1876.55,1344 1939.32,1431 2002.08,1521.6 2064.85,1612 2127.61,1684.5 2190.38,1786.4 2253.15,1880" stroke="#4DBEEE" stroke-width="8.6" fill="none" stroke-linejoin="round"/>
<path d="M337.4 73.4L292.4 47.4L292.4 99.4Z" stroke="#4DBEEE" stroke-width="8.7" fill="none" stroke-miterlimit="10"/><path d="M400.17 77.1L355.17 51.1L355.17 103.1Z" stroke="#4DBEEE" stroke-width="8.7" fill="none" stroke-miterlimit="10"/><path d="M462.93 84.4L417.93 58.4L417.93 110.4Z" stroke="#4DBEEE" stroke-width="8.7" fill="none" stroke-miterlimit="10"/><path d="M525.7 90.8L480.7 64.8L480.7 116.8Z" stroke="#4DBEEE" stroke-width="8.7" fill="none" stroke-miterlimit="10"/><path d="M588.46 104L543.46 78L543.46 130Z" stroke="#4DBEEE" stroke-width="8.7" fill="none" stroke-miterlimit="10"/><path d="M651.23 120L606.23 94L606.23 146Z" stroke="#4DBEEE" stroke-width="8.7" fill="none" stroke-miterlimit="10"/><path d="M714 140.9L669 114.9L669 166.9Z" stroke="#4DBEEE" stroke-width="8.7" fill="none" stroke-miterlimit="10"/><path d="M776.76 167.3L731.76 141.3L731.76 193.3Z" stroke="#4DBEEE" stroke-width="8.7" fill="none" stroke-miterlimit="10"/><path d="M839.53 197.7L794.53 171.7L794.53 223.7Z" stroke="#4DBEEE" stroke-width="8.7" fill="none" stroke-miterlimit="10"/><path d="M902.29 234.9L857.29 208.9L857.29 260.9Z" stroke="#4DBEEE" stroke-width="8.7" fill="none" stroke-miterlimit="10"/><path d="M965.06 276L920.06 250L920.06 302Z" stroke="#4DBEEE" stroke-width="8.7" fill="none" stroke-miterlimit="10"/><path d="M1027.83 319L982.83 293L982.83 345Z" stroke="#4DBEEE" stroke-width="8.7" fill="none" stroke-miterlimit="10"/><path d="M1090.59 369.2L1045.59 343.2L1045.59 395.2Z" stroke="#4DBEEE" stroke-width="8.7" fill="none" stroke-miterlimit="10"/><path d="M1153.36 422.9L1108.36 396.9L1108.36 448.9Z" stroke="#4DBEEE" stroke-width="8.7" fill="none" stroke-miterlimit="10"/><path d="M1216.12 481.2L1171.12 455.2L1171.12 507.2Z" stroke="#4DBEEE" stroke-width="8.7" fill="none" stroke-miterlimit="10"/><path d="M1278.89 543.9L1233.89 517.9L1233.89 569.9Z" stroke="#4DBEEE" stroke-width="8.7" fill="none" stroke-miterlimit="10"/><path d="M1341.66 610.6L1296.66 584.6L1296.66 636.6Z" stroke="#4DBEEE" stroke-width="8.7" fill="none" stroke-miterlimit="10"/><path d="M1404.42 681L1359.42 655L1359.42 707Z" stroke="#4DBEEE" stroke-width="8.7" fill="none" stroke-miterlimit="10"/><path d="M1467.19 754.4L1422.19 728.4L1422.19 780.4Z" stroke="#4DBEEE" stroke-width="8.7" fill="none" stroke-miterlimit="10"/><path d="M1529.95 832.6L1484.95 806.6L1484.95 858.6Z" stroke="#4DBEEE" stroke-width="8.7" fill="none" stroke-miterlimit="10"/><path d="M1592.72 912L1547.72 886L1547.72 938Z" stroke="#4DBEEE" stroke-width="8.7" fill="none" stroke-miterlimit="10"/><path d="M1655.49 992.4L1610.49 966.4L1610.49 1018.4Z" stroke="#4DBEEE" stroke-width="8.7" fill="none" stroke-miterlimit="10"/><path d="M1718.25 1077.3L1673.25 1051.3L1673.25 1103.3Z" stroke="#4DBEEE" stroke-width="8.7" fill="none" stroke-miterlimit="10"/><path d="M1781.02 1161.3L1736.02 1135.3L1736.02 1187.3Z" stroke="#4DBEEE" stroke-width="8.7" fill="none" stroke-miterlimit="10"/><path d="M1843.78 1252L1798.78 1226L1798.78 1278Z" stroke="#4DBEEE" stroke-width="8.7" fill="none" stroke-miterlimit="10"/><path d="M1906.55 1344L1861.55 1318L1861.55 1370Z" stroke="#4DBEEE" stroke-width="8.7" fill="none" stroke-miterlimit="10"/><path d="M1969.32 1431L1924.32 1405L1924.32 1457Z" stroke="#4DBEEE" stroke-width="8.7" fill="none" stroke-miterlimit="10"/><path d="M2032.08 1521.6L1987.08 1495.6L1987.08 1547.6Z" stroke="#4DBEEE" stroke-width="8.7" fill="none" stroke-miterlimit="10"/><path d="M2094.85 1612L2049.85 1586L2049.85 1638Z" stroke="#4DBEEE" stroke-width="8.7" fill="none" stroke-miterlimit="10"/><path d="M2157.61 1684.5L2112.61 1658.5L2112.61 1710.5Z" stroke="#4DBEEE" stroke-width="8.7" fill="none" stroke-miterlimit="10"/><path d="M2220.38 1786.4L2175.38 1760.4L2175.38 1812.4Z" stroke="#4DBEEE" stroke-width="8.7" fill="none" stroke-miterlimit="10"/>
<polyline clip-path="url(#ax)" points="307.4,70.5 370.17,73.6 432.93,79.6 495.7,91.5 558.46,105.5 621.23,123.1 684,145 746.76,172.4 809.53,204.3 872.29,242.2 935.06,284 997.83,330.3 1060.59,382.5 1123.36,439.4 1186.12,500.4 1248.89,564.9 1311.66,635 1374.42,706.9 1437.19,784.1 1499.95,861.3 1562.72,942.9 1625.49,1027.8 1688.25,1114.7 1751.02,1204 1813.78,1294.6 1876.55,1392 1939.32,1481 2002.08,1570.4 2064.85,1662.2 2127.61,1751.5 2190.38,1843" stroke="#EDB120" stroke-width="8.6" fill="none" stroke-linejoin="round"/>
<polygon points="307.4,49.3 312.16,63.95 327.56,63.95 315.1,73 319.86,87.65 307.4,78.6 294.94,87.65 299.7,73 287.24,63.95 302.64,63.95" stroke="#EDB120" stroke-width="8.3" fill="none" stroke-miterlimit="10"/><polygon points="370.17,52.4 374.93,67.05 390.33,67.05 377.87,76.1 382.63,90.75 370.17,81.7 357.7,90.75 362.46,76.1 350,67.05 365.4,67.05" stroke="#EDB120" stroke-width="8.3" fill="none" stroke-miterlimit="10"/><polygon points="432.93,58.4 437.69,73.05 453.09,73.05 440.64,82.1 445.39,96.75 432.93,87.7 420.47,96.75 425.23,82.1 412.77,73.05 428.17,73.05" stroke="#EDB120" stroke-width="8.3" fill="none" stroke-miterlimit="10"/><polygon points="495.7,70.3 500.46,84.95 515.86,84.95 503.4,94 508.16,108.65 495.7,99.6 483.24,108.65 487.99,94 475.54,84.95 490.94,84.95" stroke="#EDB120" stroke-width="8.3" fill="none" stroke-miterlimit="10"/><polygon points="558.46,84.3 563.23,98.95 578.63,98.95 566.17,108 570.93,122.65 558.46,113.6 546,122.65 550.76,108 538.3,98.95 553.7,98.95" stroke="#EDB120" stroke-width="8.3" fill="none" stroke-miterlimit="10"/><polygon points="621.23,101.9 625.99,116.55 641.39,116.55 628.93,125.6 633.69,140.25 621.23,131.2 608.77,140.25 613.53,125.6 601.07,116.55 616.47,116.55" stroke="#EDB120" stroke-width="8.3" fill="none" stroke-miterlimit="10"/><polygon points="684,123.8 688.76,138.45 704.16,138.45 691.7,147.5 696.46,162.15 684,153.1 671.53,162.15 676.29,147.5 663.83,138.45 679.23,138.45" stroke="#EDB120" stroke-width="8.3" fill="none" stroke-miterlimit="10"/><polygon points="746.76,151.2 751.52,165.85 766.92,165.85 754.47,174.9 759.22,189.55 746.76,180.5 734.3,189.55 739.06,174.9 726.6,165.85 742,165.85" stroke="#EDB120" stroke-width="8.3" fill="none" stroke-miterlimit="10"/><polygon points="809.53,183.1 814.29,197.75 829.69,197.75 817.23,206.8 821.99,221.45 809.53,212.4 797.07,221.45 801.82,206.8 789.37,197.75 804.77,197.75" stroke="#EDB120" stroke-width="8.3" fill="none" stroke-miterlimit="10"/><polygon points="872.29,221 877.06,235.65 892.46,235.65 880,244.7 884.76,259.35 872.29,250.3 859.83,259.35 864.59,244.7 852.13,235.65 867.53,235.65" stroke="#EDB120" stroke-width="8.3" fill="none" stroke-miterlimit="10"/><polygon points="935.06,262.8 939.82,277.45 955.22,277.45 942.76,286.5 947.52,301.15 935.06,292.1 922.6,301.15 927.36,286.5 914.9,277.45 930.3,277.45" stroke="#EDB120" stroke-width="8.3" fill="none" stroke-miterlimit="10"/><polygon points="997.83,309.1 1002.59,323.75 1017.99,323.75 1005.53,332.8 1010.29,347.45 997.83,338.4 985.36,347.45 990.12,332.8 977.66,323.75 993.06,323.75" stroke="#EDB120" stroke-width="8.3" fill="none" stroke-miterlimit="10"/><polygon points="1060.59,361.3 1065.35,375.95 1080.75,375.95 1068.3,385 1073.05,399.65 1060.59,390.6 1048.13,399.65 1052.89,385 1040.43,375.95 1055.83,375.95" stroke="#EDB120" stroke-width="8.3" fill="none" stroke-miterlimit="10"/><polygon points="1123.36,418.2 1128.12,432.85 1143.52,432.85 1131.06,441.9 1135.82,456.55 1123.36,447.5 1110.9,456.55 1115.65,441.9 1103.2,432.85 1118.6,432.85" stroke="#EDB120" stroke-width="8.3" fill="none" stroke-miterlimit="10"/><polygon points="1186.12,479.2 1190.89,493.85 1206.29,493.85 1193.83,502.9 1198.59,517.55 1186.12,508.5 1173.66,517.55 1178.42,502.9 1165.96,493.85 1181.36,493.85" stroke="#EDB120" stroke-width="8.3" fill="none" stroke-miterlimit="10"/><polygon points="1248.89,543.7 1253.65,558.35 1269.05,558.35 1256.59,567.4 1261.35,582.05 1248.89,573 1236.43,582.05 1241.19,567.4 1228.73,558.35 1244.13,558.35" stroke="#EDB120" stroke-width="8.3" fill="none" stroke-miterlimit="10"/><polygon points="1311.66,613.8 1316.42,628.45 1331.82,628.45 1319.36,637.5 1324.12,652.15 1311.66,643.1 1299.19,652.15 1303.95,637.5 1291.49,628.45 1306.89,628.45" stroke="#EDB120" stroke-width="8.3" fill="none" stroke-miterlimit="10"/><polygon points="1374.42,685.7 1379.18,700.35 1394.58,700.35 1382.13,709.4 1386.88,724.05 1374.42,715 1361.96,724.05 1366.72,709.4 1354.26,700.35 1369.66,700.35" stroke="#EDB120" stroke-width="8.3" fill="none" stroke-miterlimit="10"/><polygon points="1437.19,762.9 1441.95,777.55 1457.35,777.55 1444.89,786.6 1449.65,801.25 1437.19,792.2 1424.73,801.25 1429.48,786.6 1417.03,777.55 1432.43,777.55" stroke="#EDB120" stroke-width="8.3" fill="none" stroke-miterlimit="10"/><polygon points="1499.95,840.1 1504.72,854.75 1520.12,854.75 1507.66,863.8 1512.42,878.45 1499.95,869.4 1487.49,878.45 1492.25,863.8 1479.79,854.75 1495.19,854.75" stroke="#EDB120" stroke-width="8.3" fill="none" stroke-miterlimit="10"/><polygon points="1562.72,921.7 1567.48,936.35 1582.88,936.35 1570.42,945.4 1575.18,960.05 1562.72,951 1550.26,960.05 1555.02,945.4 1542.56,936.35 1557.96,936.35" stroke="#EDB120" stroke-width="8.3" fill="none" stroke-miterlimit="10"/><polygon points="1625.49,1006.6 1630.25,1021.25 1645.65,1021.25 1633.19,1030.3 1637.95,1044.95 1625.49,1035.9 1613.02,1044.95 1617.78,1030.3 1605.32,1021.25 1620.72,1021.25" stroke="#EDB120" stroke-width="8.3" fill="none" stroke-miterlimit="10"/><polygon points="1688.25,1093.5 1693.01,1108.15 1708.41,1108.15 1695.96,1117.2 1700.71,1131.85 1688.25,1122.8 1675.79,1131.85 1680.55,1117.2 1668.09,1108.15 1683.49,1108.15" stroke="#EDB120" stroke-width="8.3" fill="none" stroke-miterlimit="10"/><polygon points="1751.02,1182.8 1755.78,1197.45 1771.18,1197.45 1758.72,1206.5 1763.48,1221.15 1751.02,1212.1 1738.56,1221.15 1743.31,1206.5 1730.86,1197.45 1746.26,1197.45" stroke="#EDB120" stroke-width="8.3" fill="none" stroke-miterlimit="10"/><polygon points="1813.78,1273.4 1818.55,1288.05 1833.95,1288.05 1821.49,1297.1 1826.25,1311.75 1813.78,1302.7 1801.32,1311.75 1806.08,1297.1 1793.62,1288.05 1809.02,1288.05" stroke="#EDB120" stroke-width="8.3" fill="none" stroke-miterlimit="10"/><polygon points="1876.55,1370.8 1881.31,1385.45 1896.71,1385.45 1884.25,1394.5 1889.01,1409.15 1876.55,1400.1 1864.09,1409.15 1868.85,1394.5 1856.39,1385.45 1871.79,1385.45" stroke="#EDB120" stroke-width="8.3" fill="none" stroke-miterlimit="10"/><polygon points="1939.32,1459.8 1944.08,1474.45 1959.48,1474.45 1947.02,1483.5 1951.78,1498.15 1939.32,1489.1 1926.85,1498.15 1931.61,1483.5 1919.15,1474.45 1934.55,1474.45" stroke="#EDB120" stroke-width="8.3" fill="none" stroke-miterlimit="10"/><polygon points="2002.08,1549.2 2006.84,1563.85 2022.24,1563.85 2009.79,1572.9 2014.54,1587.55 2002.08,1578.5 1989.62,1587.55 1994.38,1572.9 1981.92,1563.85 1997.32,1563.85" stroke="#EDB120" stroke-width="8.3" fill="none" stroke-miterlimit="10"/><polygon points="2064.85,1641 2069.61,1655.65 2085.01,1655.65 2072.55,1664.7 2077.31,1679.35 2064.85,1670.3 2052.39,1679.35 2057.14,1664.7 2044.69,1655.65 2060.09,1655.65" stroke="#EDB120" stroke-width="8.3" fill="none" stroke-miterlimit="10"/><polygon points="2127.61,1730.3 2132.38,1744.95 2147.78,1744.95 2135.32,1754 2140.08,1768.65 2127.61,1759.6 2115.15,1768.65 2119.91,1754 2107.45,1744.95 2122.85,1744.95" stroke="#EDB120" stroke-width="8.3" fill="none" stroke-miterlimit="10"/>
<rect x="338" y="746.3" width="820" height="1013.5" fill="#fff" stroke="#262626" stroke-width="8"/>
<path d="M360 811.4H588" stroke="#0072BD" stroke-width="8.6"/><path d="M457.6 795L490.4 827.8M457.6 827.8L490.4 795" stroke="#0072BD" stroke-width="8.3" fill="none"/><text transform="matrix(0.9500 0 0 1 603.02 841.80)" font-size="87.00" fill="#000" stroke="#000" stroke-width="1.80">N=1024</text><text transform="matrix(0.9500 0 0 1 920.03 841.80)" font-size="87.00" fill="#000" stroke="#000" stroke-width="1.80">α=1.3</text><path d="M360 921.7H588" stroke="#D95319" stroke-width="8.6"/><rect x="457" y="904.7" width="34" height="34" stroke="#D95319" stroke-width="8.3" fill="none"/><text transform="matrix(0.9500 0 0 1 603.02 952.10)" font-size="87.00" fill="#000" stroke="#000" stroke-width="1.80">N=1024</text><text transform="matrix(0.9500 0 0 1 920.03 952.10)" font-size="87.00" fill="#000" stroke="#000" stroke-width="1.80">α=1.7</text><path d="M360 1032H588" stroke="#B444FF" stroke-width="8.6"/><circle cx="474" cy="1032" r="22.6" stroke="#B444FF" stroke-width="8.6" fill="none"/><text transform="matrix(0.9500 0 0 1 603.02 1062.40)" font-size="87.00" fill="#000" stroke="#000" stroke-width="1.80">N=1024</text><text transform="matrix(0.9500 0 0 1 920.03 1062.40)" font-size="87.00" fill="#000" stroke="#000" stroke-width="1.80">α=2.0</text><path d="M360 1142.3H588" stroke="#52C07A" stroke-width="8.6"/><path d="M474 1119V1165.6M450.7 1142.3H497.3M457.5 1125.8L490.5 1158.8M457.5 1158.8L490.5 1125.8" stroke="#52C07A" stroke-width="7.8" fill="none"/><text transform="matrix(0.9500 0 0 1 603.02 1172.70)" font-size="87.00" fill="#000" stroke="#000" stroke-width="1.80">N=256</text><text transform="matrix(0.9500 0 0 1 920.03 1172.70)" font-size="87.00" fill="#000" stroke="#000" stroke-width="1.80">α=1.3</text><path d="M360 1252.6H588" stroke="#0000FF" stroke-width="8.6"/><path d="M444 1252.6L489 1226.6L489 1278.6Z" stroke="#0000FF" stroke-width="8.7" fill="none" stroke-miterlimit="10"/><text transform="matrix(0.9500 0 0 1 603.02 1283.00)" font-size="87.00" fill="#000" stroke="#000" stroke-width="1.80">N=256</text><text transform="matrix(0.9500 0 0 1 920.03 1283.00)" font-size="87.00" fill="#000" stroke="#000" stroke-width="1.80">α=1.7</text><path d="M360 1362.9H588" stroke="#262626" stroke-width="8.6"/><circle cx="474" cy="1362.9" r="7.7" fill="#262626"/><text transform="matrix(0.9500 0 0 1 603.02 1393.30)" font-size="87.00" fill="#000" stroke="#000" stroke-width="1.80">N=256</text><text transform="matrix(0.9500 0 0 1 920.03 1393.30)" font-size="87.00" fill="#000" stroke="#000" stroke-width="1.80">α=2.0</text><path d="M360 1473.2H588" stroke="#77AC30" stroke-width="8.6"/><path d="M474 1443.5L496.2 1473.2L474 1502.9L451.8 1473.2Z" stroke="#77AC30" stroke-width="8.3" fill="none" stroke-miterlimit="10"/><text transform="matrix(0.9500 0 0 1 603.02 1503.60)" font-size="87.00" fill="#000" stroke="#000" stroke-width="1.80">N=64</text><text transform="matrix(0.9500 0 0 1 920.03 1503.60)" font-size="87.00" fill="#000" stroke="#000" stroke-width="1.80">α=1.3</text><path d="M360 1583.5H588" stroke="#4DBEEE" stroke-width="8.6"/><path d="M504 1583.5L459 1557.5L459 1609.5Z" stroke="#4DBEEE" stroke-width="8.7" fill="none" stroke-miterlimit="10"/><text transform="matrix(0.9500 0 0 1 603.02 1613.90)" font-size="87.00" fill="#000" stroke="#000" stroke-width="1.80">N=64</text><text transform="matrix(0.9500 0 0 1 920.03 1613.90)" font-size="87.00" fill="#000" stroke="#000" stroke-width="1.80">α=1.7</text><path d="M360 1693.8H588" stroke="#EDB120" stroke-width="8.6"/><polygon points="474,1672.6 478.76,1687.25 494.16,1687.25 481.7,1696.3 486.46,1710.95 474,1701.9 461.54,1710.95 466.3,1696.3 453.84,1687.25 469.24,1687.25" stroke="#EDB120" stroke-width="8.3" fill="none" stroke-miterlimit="10"/><text transform="matrix(0.9500 0 0 1 603.02 1724.20)" font-size="87.00" fill="#000" stroke="#000" stroke-width="1.80">N=64</text><text transform="matrix(0.9500 0 0 1 920.03 1724.20)" font-size="87.00" fill="#000" stroke="#000" stroke-width="1.80">α=2.0</text>
</svg></body></html>
